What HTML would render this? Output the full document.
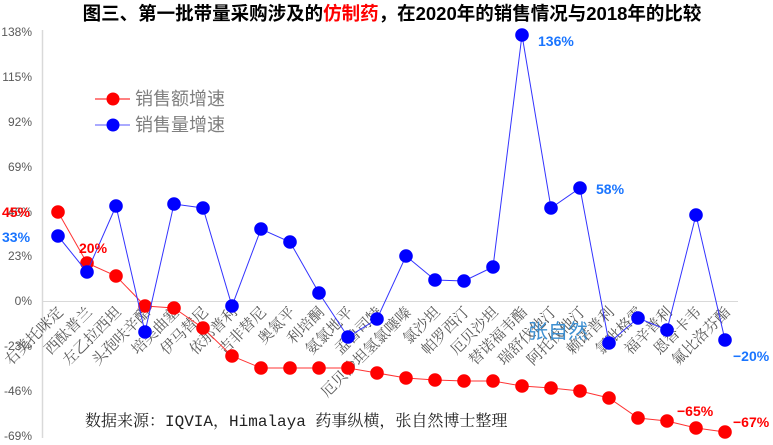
<!DOCTYPE html>
<html><head><meta charset="utf-8"><style>
html,body{margin:0;padding:0;background:#fff;width:773px;height:445px;overflow:hidden}
svg{display:block}
.t{font-family:"Liberation Sans","Noto Sans CJK SC",sans-serif;font-weight:bold;font-size:18.5px}
.tk{font-family:"Liberation Sans",sans-serif;font-size:12px;fill:#595959}
.c{font-family:"Liberation Serif","Noto Serif CJK SC",serif;font-size:15px;fill:#595959}
.dl{font-family:"Liberation Sans",sans-serif;font-weight:bold;font-size:14px}
</style></head><body>
<svg width="773" height="445" viewBox="0 0 773 445" xmlns="http://www.w3.org/2000/svg">
<text class="t" x="392" y="20" text-anchor="middle">图三、第一批带量采购涉及的<tspan fill="#ff0000">仿制药</tspan>，在2020年的销售情况与2018年的比较</text>
<line x1="42.5" y1="30" x2="42.5" y2="438" stroke="#d9d9d9" stroke-width="1.5"/>
<line x1="42" y1="301.5" x2="738" y2="301.5" stroke="#d9d9d9" stroke-width="1"/>
<g class="tk" text-anchor="end">
<text x="32" y="36">138%</text><text x="32" y="81">115%</text><text x="32" y="126">92%</text>
<text x="32" y="171">69%</text><text x="32" y="216">46%</text><text x="32" y="260">23%</text>
<text x="32" y="305">0%</text><text x="32" y="350">-23%</text><text x="32" y="395">-46%</text><text x="32" y="440">-69%</text>
</g>
<g class="c" text-anchor="end">
<text transform="translate(64,313) rotate(-45)">右美托咪定</text>
<text transform="translate(93,313) rotate(-45)">西酞普兰</text>
<text transform="translate(122,313) rotate(-45)">左乙拉西坦</text>
<text transform="translate(151,313) rotate(-45)">头孢呋辛酯</text>
<text transform="translate(180,313) rotate(-45)">培美曲塞</text>
<text transform="translate(209,313) rotate(-45)">伊马替尼</text>
<text transform="translate(238,313) rotate(-45)">依那普利</text>
<text transform="translate(267,313) rotate(-45)">吉非替尼</text>
<text transform="translate(296,313) rotate(-45)">奥氮平</text>
<text transform="translate(325,313) rotate(-45)">利培酮</text>
<text transform="translate(354,313) rotate(-45)">氨氯地平</text>
<text transform="translate(383,313) rotate(-45)">孟鲁司特</text>
<text transform="translate(412,313) rotate(-45)">厄贝沙坦氢氯噻嗪</text>
<text transform="translate(441,313) rotate(-45)">氯沙坦</text>
<text transform="translate(470,313) rotate(-45)">帕罗西汀</text>
<text transform="translate(499,313) rotate(-45)">厄贝沙坦</text>
<text transform="translate(528,313) rotate(-45)">替诺福韦酯</text>
<text transform="translate(557,313) rotate(-45)">瑞舒伐他汀</text>
<text transform="translate(586,313) rotate(-45)">阿托伐他汀</text>
<text transform="translate(615,313) rotate(-45)">赖诺普利</text>
<text transform="translate(644,313) rotate(-45)">氯吡格雷</text>
<text transform="translate(673,313) rotate(-45)">福辛普利</text>
<text transform="translate(702,313) rotate(-45)">恩替卡韦</text>
<text transform="translate(731,313) rotate(-45)">氟比洛芬酯</text>
</g>
<g id="series"></g>
<text x="528" y="338" font-family="Liberation Sans,Noto Sans CJK SC,sans-serif" font-size="20" fill="#3d8fd1">张自然</text>
<text x="85" y="426" font-family="Liberation Mono,Noto Serif CJK SC,serif" font-size="16" fill="#222">数据来源：IQVIA，Himalaya 药事纵横，张自然博士整理</text>
<line x1="95" y1="99" x2="130" y2="99" stroke="#ff0000" stroke-width="1"/>
<circle cx="113" cy="99" r="6.5" fill="#ff0000"/>
<line x1="95" y1="125" x2="130" y2="125" stroke="#5555ff" stroke-width="1"/>
<circle cx="113" cy="125" r="6.5" fill="#0000ff"/>
<g font-family="Liberation Sans,Noto Sans CJK SC,sans-serif" font-size="18" fill="#7f7f7f">
<text x="135" y="105">销售额增速</text><text x="135" y="131">销售量增速</text></g>
<g class="dl">
<text x="2" y="217" fill="#ff0000">45%</text>
<text x="2" y="242" fill="#1a75ff">33%</text>
<text x="79" y="253" fill="#ff0000">20%</text>
<text x="538" y="46" fill="#1a75ff">136%</text>
<text x="596" y="194" fill="#1a75ff">58%</text>
<text x="733" y="361" fill="#1a75ff">−20%</text>
<text x="677" y="416" fill="#ff0000">−65%</text>
<text x="733" y="427" fill="#ff0000">−67%</text>
</g>
</svg>
<script>
var R=[212,263,276,306,308,328,356,368,368,368,368,373,378,380,381,381,386,388,391,398,418,421,428,432];
var B=[236,272,206,332,204,208,306,229,242,293,337,319,256,280,281,267,35,208,188,343,318,330,215,340];
var g=document.getElementById('series'),s='';
function ser(a,lc,fc){var p=a.map(function(y,i){return (58+29*i)+','+y}).join(' ');
s+='<polyline points="'+p+'" fill="none" stroke="'+lc+'" stroke-width="1"/>';
a.forEach(function(y,i){s+='<circle cx="'+(58+29*i)+'" cy="'+y+'" r="6.8" fill="'+fc+'"/>';});}
ser(R,'#ff3333','#ff0000');ser(B,'#3333ff','#0000ff');
g.innerHTML=s;
</script>
</body></html>
